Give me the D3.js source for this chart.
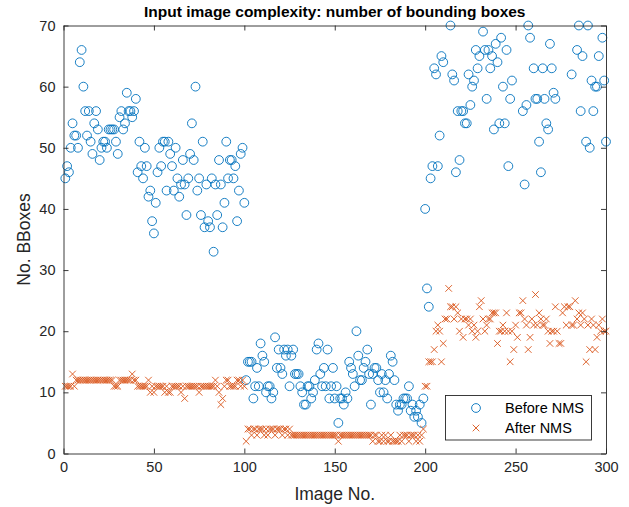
<!DOCTYPE html>
<html><head><meta charset="utf-8">
<script src="https://cdn.jsdelivr.net/npm/d3@7"></script>
<style>html,body{margin:0;padding:0;background:#fff;}svg{display:block;font-family:"Liberation Sans",Arial,Helvetica,sans-serif;}</style>
</head><body><div id="chart"></div>
<script>
// Image No. 1..300
const beforeNMS_1_100 = [45,47,46,50,54,52,52,50,64,66, 60,56,52,56,51,49,54,56,53,48, 50,51,51,50,53,53,53,53,51,49, 55,56,53,54,59,56,56,55,56,58, 46,51,47,45,50,47,42,43,38,36, 41,46,50,47,51,51,43,51,49,47, 43,50,45,42,44,48,44,39,45,49, 54,48,60,43,45,39,51,37,44,38, 37,45,33,44,39,48,44,37,41,51, 45,48,48,45,47,38,43,49,50,41];
const beforeNMS_101_200 = [12,15,15,15,9,11,14,11,18,16, 15,10,11,11,9,10,19,14,17,14, 13,17,16,17,11,16,17,13,13,13, 11,10,8,8,11,11,9,10,12,17, 18,13,11,14,11,17,9,11,14,9, 11,5,9,9,8,10,9,15,14,13, 11,20,16,12,12,14,15,17,13,8, 13,14,14,12,10,13,10,12,9,13, 16,15,12,8,7,8,8,9,9,9, 11,7,8,6,7,6,8,5,9,40];
const beforeNMS_201_300 = [27,24,45,47,63,62,47,52,65,64, 72,75,71,70,62,61,46,56,48,56, 56,54,54,62,57,60,61,66,63,65, 71,69,66,58,66,63,65,53,67,64, 54,68,60,54,66,47,58,61,73,76, 72,74,75,56,44,57,70,68,72,63, 58,58,51,46,63,58,54,53,67,63, 59,58,73,71,75,78,72,74,71,72, 62,72,74,66,70,56,65,71,51,70, 50,61,56,60,60,65,72,68,61,51];
const afterNMS_1_100 = [11,11,11,11,13,11,12,12,12,12, 12,12,12,12,12,12,12,12,12,12, 12,12,12,12,12,12,12,11,11,11, 12,12,12,12,12,12,12,13,12,12, 11,11,11,11,11,11,12,10,11,10, 11,11,11,11,11,10,11,10,10,11, 11,11,11,11,10,11,9,11,11,11, 11,11,11,11,10,11,11,11,11,11, 11,11,11,12,11,10,8,9,11,12, 12,11,11,11,11,12,12,11,12,11];
const afterNMS_101_200 = [2,4,4,3,4,4,3,4,4,4, 3,4,3,4,4,4,3,4,4,4, 3,4,4,3,4,3,3,3,3,3, 3,3,3,3,3,3,3,3,3,3, 3,3,3,3,3,3,3,3,3,3, 3,2,3,3,3,3,3,3,3,3, 3,3,3,3,3,3,3,3,3,3, 2,3,3,2,2,3,2,3,2,2, 3,2,2,2,2,3,2,3,3,3, 2,3,3,3,2,3,2,3,4,11];
const afterNMS_201_300 = [11,15,15,15,17,20,21,20,15,18, 22,22,27,24,24,22,24,23,20,22, 19,22,22,21,22,20,21,19,20,24, 25,22,20,21,22,22,23,23,23,18, 20,20,21,20,23,20,15,20,17,21, 19,23,23,25,22,21,17,19,22,21, 26,21,23,22,21,21,22,20,18,20, 20,24,20,18,18,23,24,21,24,24, 21,21,25,22,23,21,23,22,15,21, 17,22,21,17,19,21,20,22,20,20];

const xTicks = [0,50,100,150,200,250,300];
const yTicks = [0,10,20,30,40,50,60,70];
const seriesNames = ["Before NMS","After NMS"];
const seriesColors = ["#0072BD","#D95319"];
const titleText = "Input image complexity: number of bounding boxes";
const xLabelText = "Image No.";
const yLabelText = "No. BBoxes";

const before = beforeNMS_1_100.concat(beforeNMS_101_200, beforeNMS_201_300).map((v,i)=>({x:i+1,y:v}));
const after = afterNMS_1_100.concat(afterNMS_101_200, afterNMS_201_300).map((v,i)=>({x:i+1,y:v}));

const W=629,H=507;
const svg=d3.select("#chart").append("svg").attr("width",W).attr("height",H);
const x=d3.scaleLinear().domain([0,300]).range([63.5,606]);
const y=d3.scaleLinear().domain([0,70]).range([453.5,25.5]);
const axisColor="#262626";

function inRange(d){return d.x>=0&&d.x<=300&&d.y>=0&&d.y<=70;}

// Points
const r=4.4;
svg.append("g").selectAll("circle").data(before.filter(inRange)).join("circle")
  .attr("cx",d=>x(d.x)).attr("cy",d=>y(d.y)).attr("r",r)
  .attr("fill","none").attr("stroke",seriesColors[0]).attr("stroke-width",0.9);
const s=3.3;
svg.append("g").selectAll("path").data(after.filter(inRange)).join("path")
  .attr("d",d=>{const cx=x(d.x),cy=y(d.y);return `M${cx-s},${cy-s}L${cx+s},${cy+s}M${cx-s},${cy+s}L${cx+s},${cy-s}`;})
  .attr("fill","none").attr("stroke",seriesColors[1]).attr("stroke-width",0.9);

// Axes
function styleAxis(g){g.selectAll("path.domain").attr("stroke",axisColor).attr("stroke-width",0.9);
  g.selectAll(".tick line").attr("stroke",axisColor).attr("stroke-width",0.9);
  g.selectAll(".tick text").attr("fill","#262626").style("font-size","14.5px").style("font-family","'Liberation Sans',Arial,sans-serif");}
svg.append("g").attr("transform",`translate(0,${y(0)})`)
  .call(d3.axisBottom(x).tickValues(xTicks).tickSizeInner(-5).tickSizeOuter(0).tickPadding(8).tickFormat(d3.format("d"))).call(styleAxis);
svg.append("g").attr("transform",`translate(0,${y(70)})`)
  .call(d3.axisTop(x).tickValues(xTicks).tickSizeInner(-5).tickSizeOuter(0).tickFormat("")).call(styleAxis);
svg.append("g").attr("transform",`translate(${x(0)},0)`)
  .call(d3.axisLeft(y).tickValues(yTicks).tickSizeInner(-5).tickSizeOuter(0).tickPadding(8).tickFormat(d3.format("d"))).call(styleAxis);
svg.append("g").attr("transform",`translate(${x(300)},0)`)
  .call(d3.axisRight(y).tickValues(yTicks).tickSizeInner(-5).tickSizeOuter(0).tickFormat("")).call(styleAxis);

// Title & labels
svg.append("text").attr("x",(x(0)+x(300))/2).attr("y",17).attr("text-anchor","middle")
  .style("font-size","15.5px").style("font-weight","bold").attr("fill","#000").text(titleText);
svg.append("text").attr("x",(x(0)+x(300))/2).attr("y",500).attr("text-anchor","middle")
  .style("font-size","17.5px").attr("fill","#262626").text(xLabelText);
svg.append("text").attr("transform",`translate(30,${(y(0)+y(70))/2}) rotate(-90)`).attr("text-anchor","middle")
  .style("font-size","17.5px").attr("fill","#262626").text(yLabelText);

// Legend
const lg=svg.append("g");
lg.append("rect").attr("x",445.5).attr("y",395.5).attr("width",146).attr("height",44.5)
  .attr("fill","#fff").attr("stroke",axisColor).attr("stroke-width",0.9);
lg.append("circle").attr("cx",476).attr("cy",408).attr("r",r).attr("fill","none").attr("stroke",seriesColors[0]).attr("stroke-width",0.9);
lg.append("path").attr("d",`M${476-s},${428-s}L${476+s},${428+s}M${476-s},${428+s}L${476+s},${428-s}`)
  .attr("fill","none").attr("stroke",seriesColors[1]).attr("stroke-width",0.9);
seriesNames.forEach((n,i)=>{lg.append("text").attr("x",505).attr("y",413+i*20).style("font-size","14.5px").attr("fill","#000").text(n);});
</script></body></html>
